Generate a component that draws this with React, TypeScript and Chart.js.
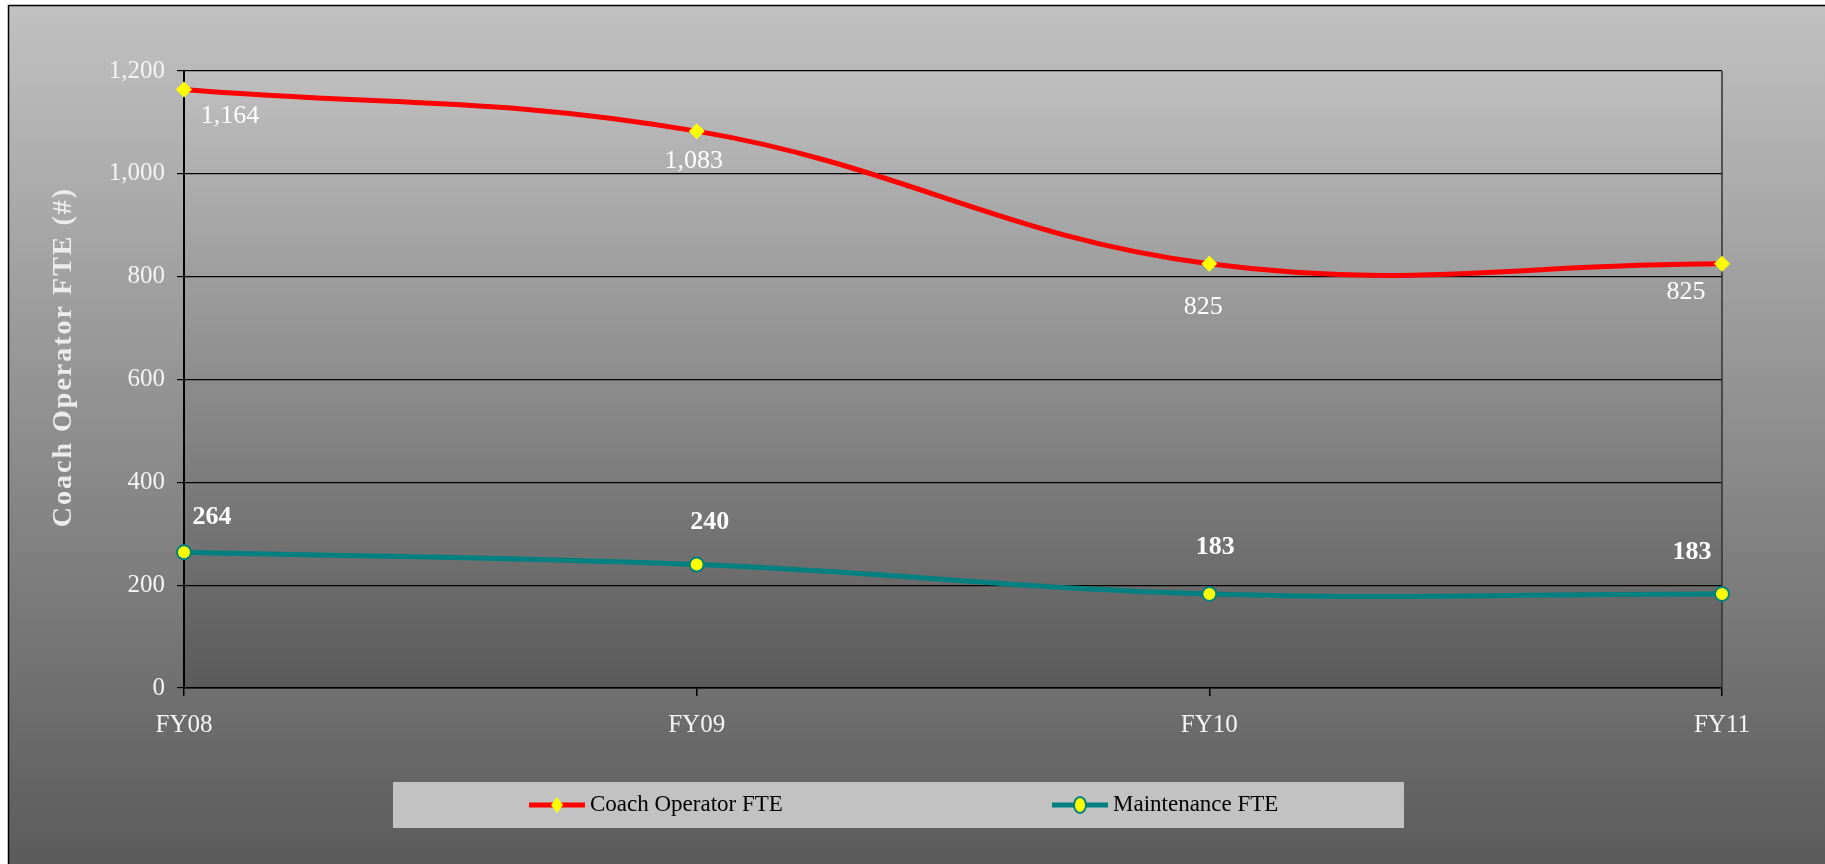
import React, { useEffect, useRef } from "react";
import { Chart, registerables } from "chart.js";

Chart.register(...registerables);

const categories = ["FY08", "FY09", "FY10", "FY11"];
const coachOperatorFTE = [1164, 1083, 825, 825];
const maintenanceFTE = [264, 240, 183, 183];
const yTicks = [0, 200, 400, 600, 800, 1000, 1200];
const yAxisTitle = "Coach Operator FTE (#)";
const seriesNames = ["Coach Operator FTE", "Maintenance FTE"];

const FONT = "'Liberation Serif', 'Times New Roman', serif";

// label offsets (px) relative to each point, per dataset
const labelOffsets = [
  [[46, 27], [-3, 30], [-6, 43], [-36, 28]],
  [[28, -35], [13, -42], [6, -47], [-30, -42]],
];

const fmt = (v: number) => v.toLocaleString("en-US");

const decorPlugin = {
  id: "decor",
  beforeDraw(chart: any) {
    const { ctx, width, height, chartArea } = chart;
    ctx.save();
    ctx.fillStyle = "#ffffff";
    ctx.fillRect(0, 0, width, height);
    const g = ctx.createLinearGradient(0, 5, 0, height);
    g.addColorStop(0, "#c1c1c1");
    g.addColorStop(1, "#5b5b5b");
    ctx.fillStyle = g;
    ctx.fillRect(8, 5, width - 8, height - 5);
    ctx.strokeStyle = "#000";
    ctx.lineWidth = 1.5;
    ctx.beginPath();
    ctx.moveTo(8.5, height);
    ctx.lineTo(8.5, 5.5);
    ctx.lineTo(width, 5.5);
    ctx.stroke();
    const pg = ctx.createLinearGradient(0, chartArea.top, 0, chartArea.bottom);
    pg.addColorStop(0, "#bfbfbf");
    pg.addColorStop(1, "#5a5a5a");
    ctx.fillStyle = pg;
    ctx.fillRect(chartArea.left, chartArea.top, chartArea.right - chartArea.left, chartArea.bottom - chartArea.top);
    ctx.restore();
  },
  beforeDatasetsDraw(chart: any) {
    const { ctx, chartArea } = chart;
    ctx.save();
    ctx.strokeStyle = "#333";
    ctx.lineWidth = 1.5;
    ctx.beginPath();
    ctx.moveTo(chartArea.right, chartArea.top);
    ctx.lineTo(chartArea.right, chartArea.bottom);
    ctx.stroke();
    ctx.restore();
  },
  afterDraw(chart: any) {
    const { ctx, chartArea } = chart;
    ctx.save();
    // data labels
    chart.data.datasets.forEach((ds: any, di: number) => {
      const meta = chart.getDatasetMeta(di);
      ctx.font = (di === 1 ? "bold " : "") + "26px " + FONT;
      ctx.fillStyle = "#ffffff";
      ctx.textAlign = "center";
      ctx.textBaseline = "middle";
      meta.data.forEach((pt: any, i: number) => {
        const [dx, dy] = labelOffsets[di][i];
        ctx.fillText(fmt(ds.data[i]), pt.x + dx, pt.y + dy);
      });
    });
    // axis title
    ctx.save();
    ctx.translate(64, 357);
    ctx.rotate(-Math.PI / 2);
    ctx.font = "bold 28px " + FONT;
    try { (ctx as any).letterSpacing = "2px"; } catch (e) {}
    ctx.fillStyle = "#ececec";
    ctx.textAlign = "center";
    ctx.textBaseline = "middle";
    ctx.fillText(yAxisTitle, 0, 0);
    ctx.restore();
    // legend
    const bx = 393, by = 782, bw = 1011, bh = 46;
    ctx.fillStyle = "#c2c2c2";
    ctx.fillRect(bx, by, bw, bh);
    const cy = by + bh / 2;
    const starts = [529, 1052];
    chart.data.datasets.forEach((ds: any, di: number) => {
      const x0 = starts[di];
      ctx.strokeStyle = ds.borderColor;
      ctx.lineWidth = 5;
      ctx.beginPath();
      ctx.moveTo(x0, cy);
      ctx.lineTo(x0 + 56, cy);
      ctx.stroke();
      const mx = x0 + 28;
      ctx.fillStyle = ds.pointBackgroundColor;
      if (ds.pointStyle === "rectRot") {
        ctx.beginPath();
        ctx.moveTo(mx, cy - 8);
        ctx.lineTo(mx + 6, cy);
        ctx.lineTo(mx, cy + 8);
        ctx.lineTo(mx - 6, cy);
        ctx.closePath();
        ctx.fill();
      } else {
        ctx.beginPath();
        ctx.ellipse(mx, cy, 6, 8, 0, 0, Math.PI * 2);
        ctx.fill();
        ctx.strokeStyle = ds.pointBorderColor;
        ctx.lineWidth = 2;
        ctx.stroke();
      }
      ctx.fillStyle = "#000";
      ctx.font = "23px " + FONT;
      ctx.textAlign = "left";
      ctx.textBaseline = "middle";
      ctx.fillText(ds.label, x0 + 61, cy);
    });
    ctx.restore();
  },
};

export default function App() {
  const ref = useRef<HTMLCanvasElement>(null);
  useEffect(() => {
    if (!ref.current) return;
    const chart = new Chart(ref.current, {
      type: "line",
      data: {
        labels: categories,
        datasets: [
          {
            label: seriesNames[0],
            data: coachOperatorFTE,
            borderColor: "#ff0000",
            borderWidth: 5,
            tension: 0.4,
            pointStyle: "rectRot",
            pointRadius: 8,
            pointBackgroundColor: "#ffff00",
            pointBorderColor: "#ffff00",
            pointBorderWidth: 0,
            clip: false,
          } as any,
          {
            label: seriesNames[1],
            data: maintenanceFTE,
            borderColor: "#008080",
            borderWidth: 5,
            tension: 0.4,
            pointStyle: "circle",
            pointRadius: 7,
            pointBackgroundColor: "#ffff00",
            pointBorderColor: "#008080",
            pointBorderWidth: 2,
            clip: false,
          } as any,
        ],
      },
      options: {
        animation: false,
        responsive: false,
        devicePixelRatio: 1,
        layout: { padding: { left: 0, top: 71, right: 103, bottom: 116 } },
        plugins: { legend: { display: false }, tooltip: { enabled: false } },
        scales: {
          x: {
            offset: false,
            afterFit: (s: any) => { s.height = 60; },
            grid: { drawOnChartArea: false, drawTicks: true, tickLength: 8, color: "#000", lineWidth: 1.5 },
            border: { color: "#000", width: 1.5 },
            ticks: { color: "#f4f4f4", font: { family: FONT, size: 25 }, padding: 14, maxRotation: 0 },
          },
          y: {
            min: 0,
            max: 1200,
            afterFit: (s: any) => { s.width = 184; },
            afterBuildTicks: (s: any) => { s.ticks = yTicks.map((v) => ({ value: v })); },
            grid: { color: "#000", lineWidth: 1.2, tickLength: 7 },
            border: { color: "#000", width: 2 },
            ticks: { color: "#f4f4f4", font: { family: FONT, size: 25 }, padding: 12, callback: (v: any) => fmt(Number(v)) },
          },
        },
      },
      plugins: [decorPlugin],
    });
    return () => chart.destroy();
  }, []);
  return (
    <div style={{ position: "fixed", left: 0, top: 0, width: 1825, height: 864 }}>
      <canvas ref={ref} width={1825} height={864} style={{ display: "block" }} />
    </div>
  );
}
